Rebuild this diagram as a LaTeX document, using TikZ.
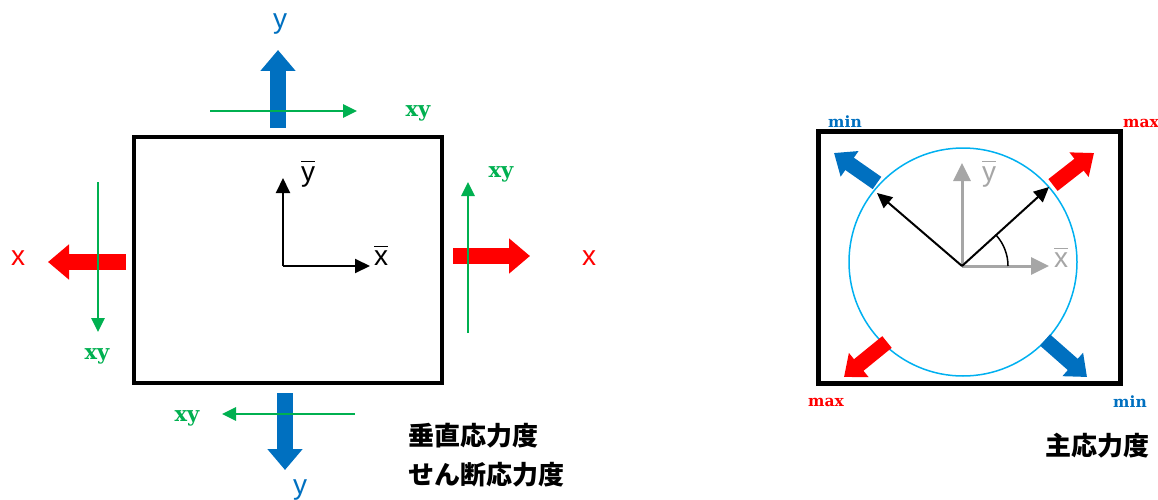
\documentclass[tikz,border=0pt]{standalone}
\usepackage{fontspec}
\usepackage{xcolor}
\usetikzlibrary{arrows.meta}

\newfontfamily\arialfont{Liberation Sans}
\newfontfamily\slabfont{DejaVu Serif}
\newfontfamily\jpfont{Noto Sans CJK JP}

\definecolor{sblue}{HTML}{0070C0}
\definecolor{sred}{HTML}{FF0000}
\definecolor{sgreen}{HTML}{00B050}
\definecolor{scyan}{HTML}{00B0F0}
\definecolor{sgray}{HTML}{A6A6A6}

\newcommand{\barlbl}[1]{$\overline{\mbox{\vphantom{t}#1}}$}

\begin{document}
\begin{tikzpicture}[
    x=1pt, y=1pt,
    fat/.style={line width=16pt, -{Triangle[width=34pt,length=21pt]}},
    fatdiag/.style={line width=15pt, -{Triangle[width=30pt,length=19pt]}},
    shear/.style={line width=2.8pt, sgreen, -{Triangle[width=13pt,length=14pt]}},
    axis/.style={line width=2pt, -{Triangle[width=14pt,length=15pt]}},
    grayaxis/.style={line width=3pt, sgray, -{Triangle[width=17pt,length=18pt]}},
    elembox/.style={draw, inner sep=0pt},
    axlbl/.style={font=\arialfont\fontsize{28}{30}\selectfont, inner sep=0pt},
    xylbl/.style={font=\slabfont\bfseries\fontsize{21}{23}\selectfont, text=sgreen, inner sep=0pt},
    mmlbl/.style={font=\slabfont\bfseries\fontsize{15.5}{17}\selectfont, inner sep=0pt},
    title/.style={font=\jpfont\bfseries\fontsize{26}{28}\selectfont, inner sep=0pt}
]
    \useasboundingbox (0,0) rectangle (1158,-500);

    % left element
    \node[elembox, line width=4pt, minimum width=308pt, minimum height=246pt] (elem) at (288,-260) {};

    \draw[fat, sblue] (278,-128) -- (278,-50);
    \draw[fat, sblue] (285,-393) -- (285,-470);
    \draw[fat, sred] (126,-262) -- (48,-262);
    \draw[fat, sred] (453,-256) -- (530,-256);

    \draw[shear] (210,-111) -- (357,-111);
    \draw[shear] (355,-414) -- (222,-414);
    \draw[shear] (98,-182) -- (98,-332);
    \draw[shear] (468,-333) -- (468,-182);

    \coordinate (o1) at (283,-266);
    \draw[axis] (o1) -- (283,-178);
    \draw[axis] (o1) -- (370,-266);
    \node[axlbl] (ybar1) at (308,-174) {\barlbl{y}};
    \node[axlbl] (xbar1) at (381,-256) {\barlbl{x}};

    \node[axlbl, text=sblue] (ytop) at (280,-24) {y};
    \node[axlbl, text=sblue] (ybot) at (300,-490) {y};
    \node[axlbl, text=sred] (xleft) at (18,-258) {x};
    \node[axlbl, text=sred] (xright) at (589,-258) {x};

    \node[xylbl] (xytop) at (418,-113) {xy};
    \node[xylbl] (xyleft) at (97,-356) {xy};
    \node[xylbl] (xyright) at (501,-174) {xy};
    \node[xylbl] (xybot) at (187,-418) {xy};

    \node[title, anchor=west] (normal) at (408,-436) {垂直応力度};
    \node[title, anchor=west] (shearttl) at (408,-475) {せん断応力度};

    % right element
    \node[elembox, line width=5pt, minimum width=302pt, minimum height=252pt] (princ) at (969,-257) {};
    \draw[scyan, line width=1.5pt] (963,-262) circle (114);

    \draw[fatdiag, sred] (1053,-185) -- (1094,-153);
    \draw[fatdiag, sblue] (877,-183) -- (834,-153);
    \draw[fatdiag, sred] (887,-342) -- (844,-377);
    \draw[fatdiag, sblue] (1045,-340) -- (1087,-377);

    \coordinate (o2) at (962,-266);
    \draw[grayaxis] (o2) -- (962,-163);
    \draw[grayaxis] (o2) -- (1049,-266);
    \draw[axis] (o2) -- (1049,-187);
    \draw[axis] (o2) -- (877,-193);
    \draw[line width=1.5pt] (1008,-266) arc[start angle=0, end angle=42, radius=46];

    \node[axlbl, text=sgray] (ybar2) at (989,-174) {\barlbl{y}};
    \node[axlbl, text=sgray] (xbar2) at (1061,-258) {\barlbl{x}};

    \node[mmlbl, text=sblue] (min1) at (845,-122) {min};
    \node[mmlbl, text=sred] (max1) at (1141,-123) {max};
    \node[mmlbl, text=sred] (max2) at (826,-402) {max};
    \node[mmlbl, text=sblue] (min2) at (1130,-402) {min};

    \node[title] (principal) at (1097,-446) {主応力度};
\end{tikzpicture}
\end{document}
